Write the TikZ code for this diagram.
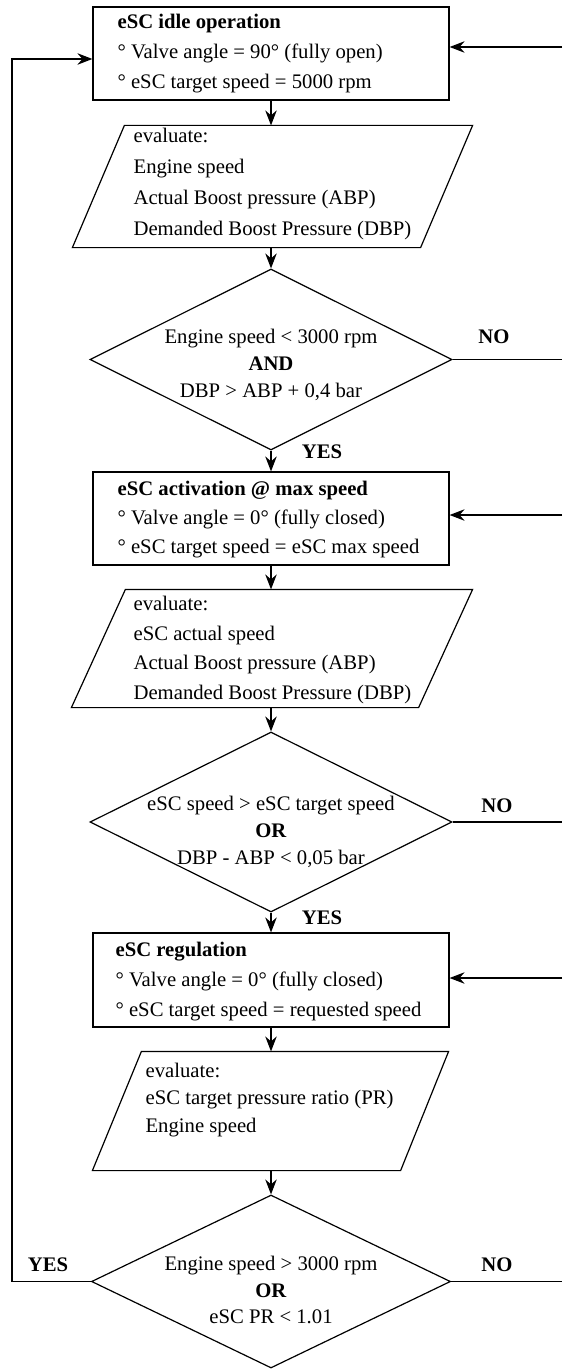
\documentclass[tikz,border=0pt]{standalone}
\usepackage{fontspec}
\setmainfont{Liberation Serif}
\usetikzlibrary{shapes.geometric,arrows.meta,calc}

% line spacing helper for the multi-line labels
\newcommand{\fsz}[1]{\fontsize{20.7}{#1}\selectfont}

\begin{document}
\begin{tikzpicture}[x=1pt,y=-1pt,
  font=\fsz{30},
  line width=1.2pt,
  flow/.style={-{Stealth[length=15pt,width=11.5pt,inset=5pt]}},
  stepbox/.style={draw, rectangle, minimum width=356pt, minimum height=93pt, inner sep=0pt},
  iobox/.style={rectangle, inner sep=0pt},
  decision/.style={draw, diamond, inner sep=0pt},
  txt/.style={inner sep=0pt, align=left, anchor=west},
  ctxt/.style={inner sep=0pt, align=center},
  answer/.style={inner sep=0pt, font=\fsz{25}\bfseries},
]
\useasboundingbox (0,0) rectangle (562,1370);

% ---------- stage 1: idle ----------
\node[stepbox] (b1) at (271,53.5) {};
\node[txt, font=\fsz{30}] (b1t) at (117,53.5)
  {\textbf{eSC idle operation}\\° Valve angle = 90° (fully open)\\° eSC target speed = 5000 rpm};

\node[iobox, minimum width=399pt, minimum height=121pt] (p1) at (272.5,186.5) {};
\draw (p1.south west) -- ($(p1.south east)+(-52,0)$) -- (p1.north east)
      -- ($(p1.north west)+(52,0)$) -- cycle;
\node[txt, font=\fsz{31}] (p1t) at (133,184)
  {evaluate:\\Engine speed\\Actual Boost pressure (ABP)\\Demanded Boost Pressure (DBP)};

\node[decision, minimum width=362pt, minimum height=181pt] (d1) at (271,359.5) {};
\node[ctxt, font=\fsz{27}] (d1t) at (271,365)
  {Engine speed < 3000 rpm\\\textbf{AND}\\DBP > ABP + 0,4 bar};
\node[answer] (no1) at (494,337) {NO};
\node[answer] (yes1) at (322,452) {YES};

% ---------- stage 2: activation ----------
\node[stepbox] (b2) at (271,518.5) {};
\node[txt, font=\fsz{29}] (b2t) at (117,520)
  {\textbf{eSC activation @ max speed}\\° Valve angle = 0° (fully closed)\\° eSC target speed = eSC max speed};

\node[iobox, minimum width=400pt, minimum height=117pt] (p2) at (272,648.5) {};
\draw (p2.south west) -- ($(p2.south east)+(-54,0)$) -- (p2.north east)
      -- ($(p2.north west)+(54,0)$) -- cycle;
\node[txt, font=\fsz{29.5}] (p2t) at (133,650)
  {evaluate:\\eSC actual speed\\Actual Boost pressure (ABP)\\Demanded Boost Pressure (DBP)};

\node[decision, minimum width=362pt, minimum height=180pt] (d2) at (271,822) {};
\node[ctxt, font=\fsz{27}] (d2t) at (271,832)
  {eSC speed > eSC target speed\\\textbf{OR}\\DBP - ABP < 0,05 bar};
\node[answer] (no2) at (497,806) {NO};
\node[answer] (yes2) at (322,918) {YES};

% ---------- stage 3: regulation ----------
\node[stepbox, minimum height=94pt] (b3) at (271,980) {};
\node[txt, font=\fsz{30}] (b3t) at (115,981.5)
  {\textbf{eSC regulation}\\° Valve angle = 0° (fully closed)\\° eSC target speed = requested speed};

\node[iobox, minimum width=355pt, minimum height=118pt] (p3) at (270.5,1111) {};
\draw (p3.south west) -- ($(p3.south east)+(-48,0)$) -- (p3.north east)
      -- ($(p3.north west)+(49,0)$) -- cycle;
\node[txt, font=\fsz{27.5}] (p3t) at (145,1100)
  {evaluate:\\eSC target pressure ratio (PR)\\Engine speed};

\node[decision, minimum width=359pt, minimum height=173pt] (d3) at (271,1281.5) {};
\node[ctxt, font=\fsz{26.5}] (d3t) at (271,1290)
  {Engine speed > 3000 rpm\\\textbf{OR}\\eSC PR < 1.01};
\node[answer] (yes3) at (48,1265) {YES};
\node[answer] (no3) at (497,1265) {NO};

% ---------- main flow ----------
\draw[flow] (b1.south) -- (b1.south |- p1.north);
\draw[flow] (b1.south |- p1.south) -- (d1.north);
\draw[flow] (d1.south) -- (b2.north);
\draw[flow] (b2.south) -- (b2.south |- p2.north);
\draw[flow] (b2.south |- p2.south) -- (d2.north);
\draw[flow] (d2.south) -- (b3.north);
\draw[flow] (b3.south) -- (b3.south |- p3.north);
\draw[flow] (b3.south |- p3.south) -- (d3.north);

% ---------- branches leaving at the right edge ----------
\coordinate (out1) at (562,359.5);
\coordinate (out2) at (562,822);
\coordinate (out3) at (562,1281.5);
\draw (d1.east) -- (out1);
\draw (d2.east) -- (out2);
\draw (d3.east) -- (out3);

% ---------- entries from the right edge ----------
\coordinate (in1) at (562,47);
\coordinate (in2) at (562,515);
\coordinate (in3) at (562,978);
\draw[flow] (in1) -- (in1 -| b1.east);
\draw[flow] (in2) -- (in2 -| b2.east);
\draw[flow] (in3) -- (in3 -| b3.east);

% ---------- return loop to idle ----------
\coordinate (back) at (12,59);
\draw[flow] (d3.west) -| (back) -- (back -| b1.west);

\end{tikzpicture}
\end{document}
